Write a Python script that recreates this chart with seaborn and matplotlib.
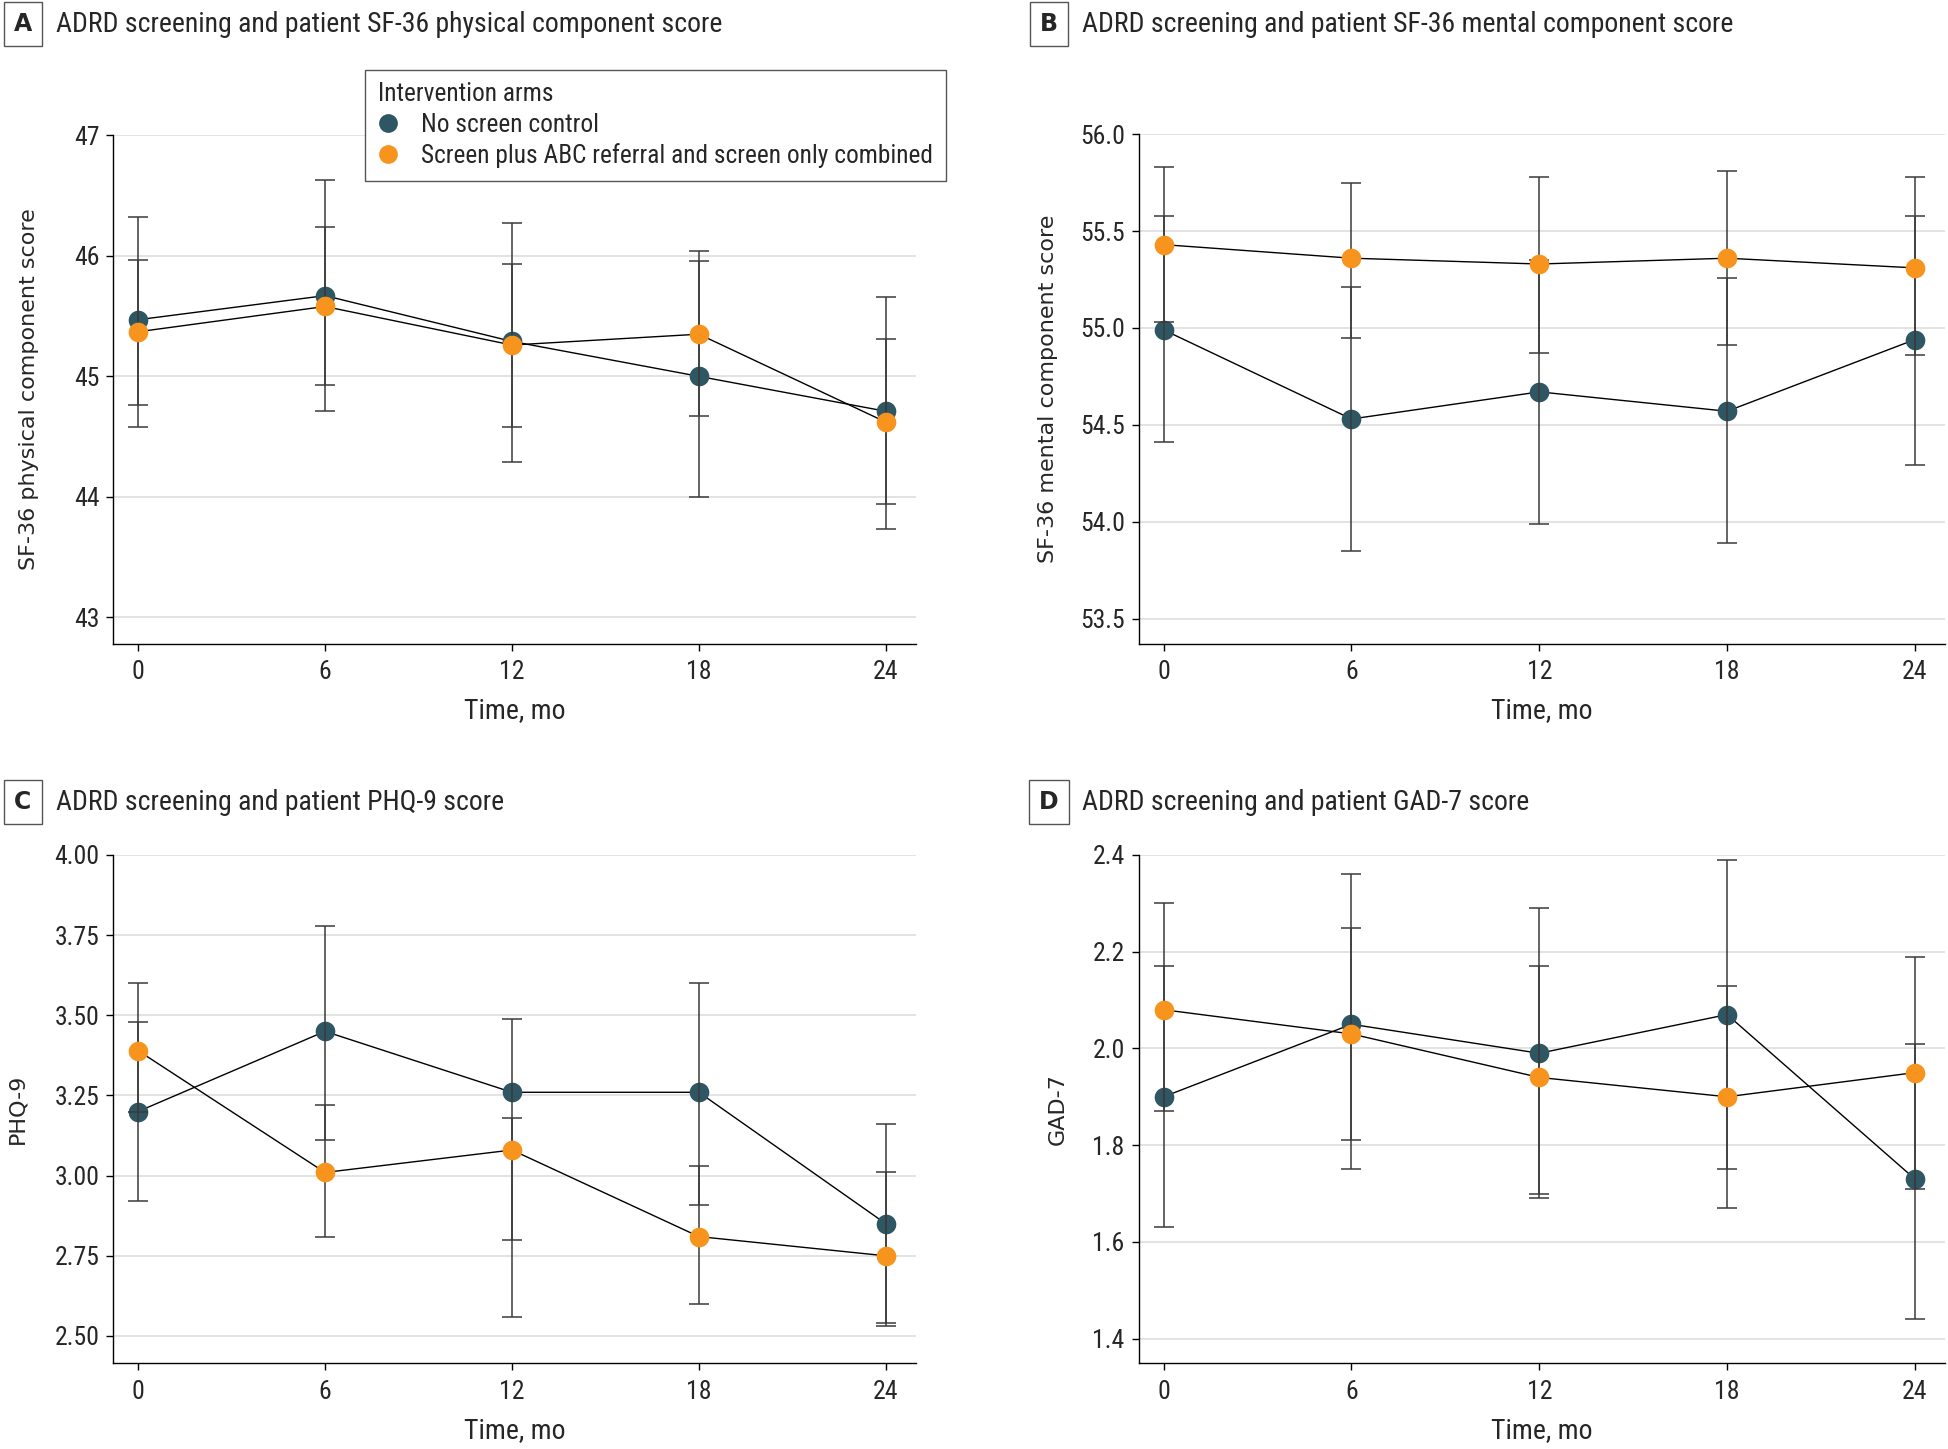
import matplotlib
matplotlib.use("Agg")
import matplotlib.pyplot as plt
import seaborn as sns
import pandas as pd
from matplotlib import font_manager as fm
from matplotlib.lines import Line2D

# ---------------- data ----------------
months = [0, 6, 12, 18, 24]
arms = ["No screen control", "Screen plus ABC referral and screen only combined"]

pcs_control = [45.47, 45.67, 45.29, 45.00, 44.71]
pcs_control_lo = [44.58, 44.71, 44.29, 44.00, 43.73]
pcs_control_hi = [46.32, 46.63, 46.27, 45.96, 45.66]
pcs_screen = [45.37, 45.58, 45.26, 45.35, 44.62]
pcs_screen_lo = [44.76, 44.93, 44.58, 44.67, 43.94]
pcs_screen_hi = [45.97, 46.24, 45.93, 46.04, 45.31]

mcs_control = [54.99, 54.53, 54.67, 54.57, 54.94]
mcs_control_lo = [54.41, 53.85, 53.99, 53.89, 54.29]
mcs_control_hi = [55.58, 55.21, 55.35, 55.26, 55.58]
mcs_screen = [55.43, 55.36, 55.33, 55.36, 55.31]
mcs_screen_lo = [55.03, 54.95, 54.87, 54.91, 54.86]
mcs_screen_hi = [55.83, 55.75, 55.78, 55.81, 55.78]

phq_control = [3.20, 3.45, 3.26, 3.26, 2.85]
phq_control_lo = [2.92, 3.11, 2.80, 2.91, 2.53]
phq_control_hi = [3.48, 3.78, 3.49, 3.60, 3.16]
phq_screen = [3.39, 3.01, 3.08, 2.81, 2.75]
phq_screen_lo = [3.20, 2.81, 2.56, 2.60, 2.54]
phq_screen_hi = [3.60, 3.22, 3.18, 3.03, 3.01]

gad_control = [1.90, 2.05, 1.99, 2.07, 1.73]
gad_control_lo = [1.63, 1.75, 1.69, 1.75, 1.44]
gad_control_hi = [2.17, 2.36, 2.29, 2.39, 2.01]
gad_screen = [2.08, 2.03, 1.94, 1.90, 1.95]
gad_screen_lo = [1.87, 1.81, 1.70, 1.67, 1.71]
gad_screen_hi = [2.30, 2.25, 2.17, 2.13, 2.19]

panel_letters = ["A", "B", "C", "D"]
panel_titles = [
    "ADRD screening and patient SF-36 physical component score",
    "ADRD screening and patient SF-36 mental component score",
    "ADRD screening and patient PHQ-9 score",
    "ADRD screening and patient GAD-7 score",
]
y_labels = ["SF-36 physical component score", "SF-36 mental component score", "PHQ-9", "GAD-7"]
y_ticks = [[43, 44, 45, 46, 47],
           [53.5, 54.0, 54.5, 55.0, 55.5, 56.0],
           [2.50, 2.75, 3.00, 3.25, 3.50, 3.75, 4.00],
           [1.4, 1.6, 1.8, 2.0, 2.2, 2.4]]
y_fmt = ["{:.0f}", "{:.1f}", "{:.2f}", "{:.1f}"]
y_lims = [(42.78, 47.0), (53.37, 56.0), (2.415, 4.0), (1.349, 2.4)]
x_label = "Time, mo"
legend_title = "Intervention arms"

# ---------------- style ----------------
sns.set_theme(style="white")
names = {f.name for f in fm.fontManager.ttflist}
cond = None
for cand in ["Roboto Condensed", "Liberation Sans Narrow", "Open Sans Condensed", "DejaVu Sans"]:
    if cand in names:
        cond = cand
        break
plt.rcParams["font.family"] = [cond, "DejaVu Sans"]
cond_stretch = "normal" if cond != "DejaVu Sans" else "condensed"

DARK = "#2E5663"
ORANGE = "#F7941E"
ERR = "#3a3a3a"

fig = plt.figure(figsize=(19.49, 14.49), dpi=100)

W, H = 1568.0, 1166.0
axes_px = [(91, 737, 109, 518), (916, 1565, 108, 518), (91, 737, 688, 1097), (916, 1565, 688, 1097)]

series = [
    (pcs_control, pcs_control_lo, pcs_control_hi, pcs_screen, pcs_screen_lo, pcs_screen_hi),
    (mcs_control, mcs_control_lo, mcs_control_hi, mcs_screen, mcs_screen_lo, mcs_screen_hi),
    (phq_control, phq_control_lo, phq_control_hi, phq_screen, phq_screen_lo, phq_screen_hi),
    (gad_control, gad_control_lo, gad_control_hi, gad_screen, gad_screen_lo, gad_screen_hi),
]
ylabel_x = [-0.092, -0.100, -0.107, -0.088]
title_pos = [(6, 24), (1032, 24), (6, 802), (1032, 802)]

FS_TITLE = 20
FS_TICK = 18.5
FS_LEG = 18.3
for i in range(4):
    l, r, t, b = axes_px[i]
    ax = fig.add_axes([l / W, 1 - b / H, (r - l) / W, (b - t) / H])
    c, clo, chi, s, slo, shi = series[i]
    df = pd.DataFrame({
        "time": months * 2,
        "value": list(c) + list(s),
        "lo": list(clo) + list(slo),
        "hi": list(chi) + list(shi),
        "arm": [arms[0]] * 5 + [arms[1]] * 5,
    })
    sns.lineplot(data=df, x="time", y="value", units="arm", estimator=None,
                 color="black", linewidth=1.0, ax=ax, zorder=2, legend=False)
    d0 = df[df.arm == arms[0]]
    d1 = df[df.arm == arms[1]]
    sns.scatterplot(data=d0, x="time", y="value", color=DARK, s=200, linewidth=0,
                    ax=ax, zorder=2.5, legend=False)
    for d in (d0, d1):
        ax.errorbar(d["time"], d["value"],
                    yerr=[d["value"] - d["lo"], d["hi"] - d["value"]],
                    fmt="none", ecolor=ERR, elinewidth=1.1, capsize=7.5, capthick=1.1, zorder=3)
    sns.scatterplot(data=d1, x="time", y="value", color=ORANGE, s=200, linewidth=0,
                    ax=ax, zorder=4, legend=False)

    ax.set_xlim(-0.8, 24.97)
    ax.set_ylim(*y_lims[i])
    ax.set_xticks(months)
    ax.set_xticklabels([str(m) for m in months], fontsize=FS_TICK, fontstretch=cond_stretch)
    ax.set_yticks(y_ticks[i])
    ax.set_yticklabels([y_fmt[i].format(v) for v in y_ticks[i]], fontsize=FS_TICK, fontstretch=cond_stretch)
    ax.grid(axis="y", color="#dedede", linewidth=1.2)
    ax.grid(axis="x", visible=False)
    for sp in ["top", "right"]:
        ax.spines[sp].set_visible(False)
    for sp in ["left", "bottom"]:
        ax.spines[sp].set_color("black")
        ax.spines[sp].set_linewidth(1.0)
    ax.tick_params(axis="both", which="both", direction="out", length=5, width=1.0,
                   color="black", left=True, bottom=True)
    ax.tick_params(axis="x", pad=7)
    ax.tick_params(axis="y", pad=5)
    ax.set_xlabel(x_label, fontsize=FS_TITLE, fontstretch=cond_stretch)
    ax.xaxis.set_label_coords(0.5, -0.105)
    ax.set_ylabel(y_labels[i], fontsize=16, family="DejaVu Sans")
    ax.yaxis.set_label_coords(ylabel_x[i], 0.5)

    bx, by = title_pos[i]
    fig.text((bx + 17) / 1949, 1 - by / 1449, panel_letters[i], fontsize=17, fontweight="bold",
             family="DejaVu Sans", ha="center", va="center",
             bbox=dict(boxstyle="square,pad=0.42", facecolor="white", edgecolor="#555555", linewidth=1.0))
    fig.text((bx + 50) / 1949, 1 - by / 1449, panel_titles[i], fontsize=FS_TITLE,
             fontstretch=cond_stretch, ha="left", va="center")

# legend
handles = [Line2D([], [], linestyle="none", marker="o", markersize=13.5, markerfacecolor=DARK,
                  markeredgewidth=0),
           Line2D([], [], linestyle="none", marker="o", markersize=13.5, markerfacecolor=ORANGE,
                  markeredgewidth=0)]
leg = fig.legend(handles, arms, title=legend_title, loc="upper left",
                 bbox_to_anchor=(294 / W, 1 - 56 / H), borderaxespad=0, frameon=True,
                 fontsize=FS_LEG, title_fontsize=FS_LEG, alignment="left", fancybox=False,
                 handlelength=0.8, handletextpad=0.9, labelspacing=0.25, borderpad=0.5,
                 edgecolor="#555555", framealpha=1)
leg.get_frame().set_linewidth(1.0)

fig.savefig("out.png", dpi=100)
